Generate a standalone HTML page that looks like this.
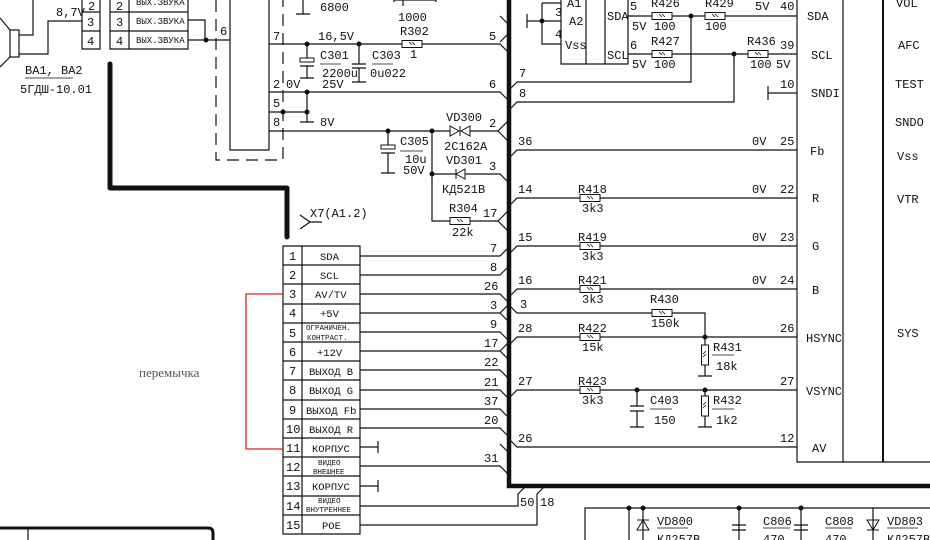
<!DOCTYPE html>
<html><head><meta charset="utf-8"><style>
html,body{margin:0;padding:0;background:#fff;}
svg{display:block;}
text{font-family:"Liberation Mono",monospace;font-size:12px;fill:#111;}
.s{font-size:9px;}
.xs{font-size:7.5px;}
.c{font-size:10.5px;}
</style></head><body>
<svg width="930" height="540" viewBox="0 0 930 540" xmlns="http://www.w3.org/2000/svg">
<defs>
<g id="rh"><rect x="-10" y="-3.5" width="20" height="7" fill="#fff" stroke="#111" stroke-width="1"/><path d="M-3 -2 L0 1 M0 -2 L3 1" stroke="#111" stroke-width="0.8"/></g>
<g id="rv"><rect x="-3.5" y="-10" width="7" height="20" fill="#fff" stroke="#111" stroke-width="1"/><path d="M-2 2 L1 -1 M-2 -1 L1 -4" stroke="#111" stroke-width="0.8"/></g>
</defs>
<g stroke="#111" stroke-width="1.2" fill="none">
<rect x="10" y="30" width="9" height="27"/>
<path d="M0 18 L10 30 M0 67 L10 57 M19 35 H33 V0 M19 54 H48 V21 H82"/>
<path d="M82 0 V49 H100 V0 M82 12 H100 M82 31 H100"/>
<path d="M110 0 V49 H188 V0 M129 0 V49 M110 12 H188 M110 31 H188"/>
<path d="M188 20 H205 V40 M188 40 H230"/>
<path d="M216 0 V160 H283 V0" stroke-dasharray="12,7"/>
<path d="M230 0 V150 H269 V0"/>
<path d="M110 64 V188 H287 V237" stroke-width="5" stroke-linecap="round" stroke-linejoin="round"/>
<path d="M303 0 V14 M296 14 H310 M403 0 V6 M394 0 H436 V2 M394 0 V2"/>
<path d="M269 44 H403 M422 44 H500 L508 52"/>
<path d="M269 92 H500 L508 100"/>
<path d="M269 112 H307 M307 92 V122 M300 122 H314"/>
<path d="M269 131 H450 M470 131 H498 L508 121 M498 131 L508 141"/>
<path d="M307 44 V60 M300 60 H314 M300 66 H314 M307 66 V78 M300 78 H314" />
<path d="M359 44 V64 M352 64 H366 M352 68 H366 M359 68 V82 M352 82 H366"/>
<path d="M388 131 V146 M381 146 H395 M381 153 H395 M388 153 V173 M381 173 H395"/>
<path d="M432 131 V221 H450 M470 221 H498 L508 231 M498 221 L508 211"/>
<path d="M432 174 H456 M465 174 H500 L508 182"/>
<path d="M450 126 L459 131 L450 136 Z M470 126 L461 131 L470 136 Z M460 126 V136" stroke-width="1"/>
<path d="M465 169 L456 174 L465 179 Z M456 169 V179" stroke-width="1"/>
<path d="M509 0 V486 H930" stroke-width="4.5"/>
<path d="M797 0 V462 H930 M843 0 V462"/>
<path d="M883 0 V462" stroke-width="2"/>
<path d="M561 0 V64 H628 V0 M586 0 V64 M605 0 V64"/>
<path d="M527 14 V28 M527 21 H561 M542 3 V44 H561 M542 3 H561"/>
<path d="M628 16 H652 M672 16 H705 M725 16 H797 M628 54 H652 M672 54 H748 M768 54 H797"/>
<path d="M691 16 V82 H517 L509 90 M734 54 V102 H517 L509 110"/>
<path d="M768 86 V100 M768 93 H797"/>
<path d="M509 158 L517 150 H797"/>
<path d="M509 206 L517 198 H797"/>
<path d="M509 254 L517 246 H797"/>
<path d="M509 297 L517 289 H797"/>
<path d="M509 305 L517 313 H652 M672 313 H705 V337"/>
<path d="M509 345 L517 337 H797"/>
<path d="M509 398 L517 390 H797"/>
<path d="M509 439 L517 447 H797"/>
<path d="M705 337 V376 M698 376 H712"/>
<path d="M705 390 V427 M698 427 H712"/>
<path d="M637 390 V406 M630 406 H644 M630 411 H644 M637 411 V427 M630 427 H644"/>
<path d="M509 25 L500 16 M509 33 L500 42" />
<path d="M283 246 V534 H360 V246 Z M302 246 V534"/>
<path d="M283 265 H360 M283 284 H360 M283 304 H360 M283 323 H360 M283 342 H360 M283 361 H360 M283 380 H360 M283 400 H360 M283 419 H360 M283 438 H360 M283 457 H360 M283 476 H360 M283 496 H360 M283 515 H360"/>
<path d="M360 256 H500 L508 248 M360 275 H500 L508 267"/>
<path d="M360 294 H500 L508 302 M360 313 H500 L508 305 M508 321 L500 313"/>
<path d="M360 332 H500 L508 340 M360 351 H500 L508 359 M508 343 L500 351"/>
<path d="M360 370 H500 L508 378 M360 390 H500 L508 398 M360 409 H500 L508 417 M360 428 H500 L508 436 M508 452 L500 444"/>
<path d="M360 466 H500 L508 474"/>
<path d="M360 447 H378 M378 441 V453 M360 486 H378 M378 480 V492"/>
<path d="M360 506 H518 V494 L526 486 M360 525 H537 V494 L545 486"/>
<path d="M300 229 L310 222 H322 M300 215 L310 222"/>
<path d="M585 540 V508 H930 M629 508 V540 M643 508 V540 M739 508 V540 M801 508 V540 M873 508 V540"/>
<path d="M732 525 H746 M732 530 H746 M794 525 H808 M794 530 H808"/>
<path d="M637 530 L643 520 L649 530 Z M637 520 H649 M867 520 L873 530 L879 520 Z M867 530 H879" stroke-width="1"/>
<path d="M657 528 H688 M763 528 H790 M825 528 H852 M887 528 H918" stroke-width="0.8"/>
<path d="M0 528 H208 Q213 528 213 533 V540" stroke-width="3"/>
<path d="M28 528 V540"/>
<path d="M25 78 H73 M320 64 H341 M372 64 H393 M400 151 H423 M650 409 H672" stroke-width="0.8"/>
<path d="M712 355 H734 M712 409 H734" stroke-width="0.8"/>
</g>
<g stroke="#e02020" stroke-width="1.3" fill="none"><path d="M283 294 H246 V449 H283"/></g>
<g fill="#111">
<circle cx="206" cy="40" r="2.5"/><circle cx="307" cy="44" r="2.5"/><circle cx="359" cy="44" r="2.5"/>
<circle cx="307" cy="92" r="2.5"/><circle cx="307" cy="112" r="2.5"/><circle cx="283" cy="112" r="2.5"/>
<circle cx="388" cy="131" r="2.5"/><circle cx="432" cy="131" r="2.5"/><circle cx="432" cy="174" r="2.5"/>
<circle cx="542" cy="21" r="2.5"/><circle cx="691" cy="16" r="2.5"/><circle cx="734" cy="54" r="2.5"/>
<circle cx="705" cy="337" r="2.5"/><circle cx="705" cy="390" r="2.5"/><circle cx="637" cy="390" r="2.5"/>
<circle cx="629" cy="508" r="2.5"/><circle cx="643" cy="508" r="2.5"/><circle cx="739" cy="508" r="2.5"/><circle cx="801" cy="508" r="2.5"/>
</g>
<g fill="#fff" stroke="#111" stroke-width="1"><rect x="300" y="58" width="14" height="4"/><rect x="381" y="145" width="14" height="4"/></g>
<use href="#rh" x="412" y="44"/><use href="#rh" x="460" y="221"/>
<use href="#rh" x="662" y="16"/><use href="#rh" x="715" y="16"/><use href="#rh" x="662" y="54"/><use href="#rh" x="758" y="54"/>
<use href="#rh" x="590" y="198"/><use href="#rh" x="590" y="246"/><use href="#rh" x="590" y="289"/>
<use href="#rh" x="662" y="313"/><use href="#rh" x="590" y="337"/><use href="#rh" x="590" y="390"/>
<use href="#rv" x="705" y="355"/><use href="#rv" x="705" y="406"/>
<text x="56" y="16">8,7V</text>
<text x="88" y="10">2</text><text x="87" y="26">3</text><text x="87" y="45">4</text>
<text x="116" y="10">2</text><text x="116" y="26">3</text><text x="116" y="45">4</text>
<text class="s" x="136" y="24">ВЫХ.ЗВУКА</text><text class="s" x="136" y="43">ВЫХ.ЗВУКА</text><text class="s" x="136" y="5">ВЫХ.ЗВУКА</text>
<text x="220" y="35">6</text>
<text x="25" y="74">BA1, BA2</text><text x="20" y="93">5ГДШ-10.01</text>
<text x="320" y="11">6800</text><text x="398" y="21">1000</text>
<text x="273" y="40">7</text><text x="318" y="40">16,5V</text><text x="400" y="35">R302</text><text x="410" y="58">1</text>
<text x="320" y="59">C301</text><text x="322" y="77">2200u</text><text x="322" y="88">25V</text>
<text x="372" y="59">C303</text><text x="370" y="77">0u022</text>
<text x="273" y="88">2</text><text x="286" y="88">0V</text><text x="273" y="107">5</text><text x="273" y="126">8</text><text x="320" y="126">8V</text>
<text x="489" y="40">5</text><text x="489" y="88">6</text><text x="489" y="127">2</text><text x="489" y="170">3</text><text x="483" y="217">17</text>
<text x="400" y="145">C305</text><text x="405" y="163">10u</text><text x="403" y="174">50V</text>
<text x="446" y="121">VD300</text><text x="444" y="150">2C162A</text>
<text x="446" y="164">VD301</text><text x="442" y="193">КД521В</text>
<text x="449" y="212">R304</text><text x="452" y="236">22k</text>
<text x="310" y="217">X7(A1.2)</text>
<text x="567" y="7">A1</text><text x="569" y="25">A2</text><text x="565" y="49">Vss</text><text x="555" y="16">3</text><text x="555" y="38">4</text>
<text x="607" y="20">SDA</text><text x="607" y="59">SCL</text>
<text x="630" y="10">5</text><text x="630" y="49">6</text>
<text x="651" y="7">R426</text><text x="705" y="7">R429</text>
<text x="632" y="30">5V</text><text x="654" y="30">100</text><text x="705" y="30">100</text>
<text x="651" y="45">R427</text><text x="632" y="68">5V</text><text x="654" y="68">100</text>
<text x="747" y="45">R436</text><text x="750" y="68">100</text><text x="776" y="68">5V</text>
<text x="755" y="10">5V</text><text x="780" y="10">40</text><text x="780" y="49">39</text><text x="780" y="88">10</text>
<text x="519" y="77">7</text><text x="519" y="97">8</text>
<text x="518" y="145">36</text><text x="752" y="145">0V</text><text x="780" y="145">25</text>
<text x="518" y="193">14</text><text x="578" y="193">R418</text><text x="582" y="212">3k3</text><text x="752" y="193">0V</text><text x="780" y="193">22</text>
<text x="518" y="241">15</text><text x="578" y="241">R419</text><text x="582" y="260">3k3</text><text x="752" y="241">0V</text><text x="780" y="241">23</text>
<text x="518" y="284">16</text><text x="578" y="284">R421</text><text x="582" y="303">3k3</text><text x="752" y="284">0V</text><text x="780" y="284">24</text>
<text x="520" y="308">3</text><text x="650" y="303">R430</text><text x="651" y="327">150k</text>
<text x="518" y="332">28</text><text x="578" y="332">R422</text><text x="582" y="351">15k</text><text x="780" y="332">26</text>
<text x="713" y="351">R431</text><text x="716" y="370">18k</text>
<text x="518" y="385">27</text><text x="578" y="385">R423</text><text x="582" y="404">3k3</text><text x="780" y="385">27</text>
<text x="650" y="404">C403</text><text x="654" y="424">150</text><text x="713" y="404">R432</text><text x="716" y="424">1k2</text>
<text x="518" y="442">26</text><text x="780" y="442">12</text>
<text x="807" y="20">SDA</text><text x="811" y="59">SCL</text><text x="811" y="97">SNDI</text><text x="810" y="155">Fb</text>
<text x="812" y="202">R</text><text x="812" y="250">G</text><text x="812" y="294">B</text><text x="806" y="342">HSYNC</text><text x="806" y="395">VSYNC</text><text x="812" y="452">AV</text>
<text x="896" y="7">VOL</text><text x="898" y="49">AFC</text><text x="895" y="88">TEST</text><text x="895" y="126">SNDO</text><text x="897" y="160">Vss</text><text x="897" y="203">VTR</text><text x="897" y="337">SYS</text>
<text x="289" y="260">1</text><text x="289" y="279">2</text><text x="289" y="298">3</text><text x="289" y="317">4</text><text x="289" y="337">5</text><text x="289" y="356">6</text><text x="289" y="375">7</text><text x="289" y="394">8</text><text x="289" y="414">9</text><text x="286" y="433">10</text><text x="286" y="452">11</text><text x="286" y="471">12</text><text x="286" y="490">13</text><text x="286" y="510">14</text><text x="286" y="529">15</text>
<text class="c" x="320" y="260">SDA</text><text class="c" x="320" y="279">SCL</text><text class="c" x="315" y="298">AV/TV</text><text class="c" x="320" y="317">+5V</text>
<text class="xs" x="306" y="330">ОГРАНИЧЕН.</text><text class="xs" x="307" y="340">КОНТРАСТ.</text>
<text class="c" x="317" y="356">+12V</text><text class="c" x="309" y="375">ВЫХОД B</text><text class="c" x="309" y="394">ВЫХОД G</text><text class="c" x="306" y="414">ВЫХОД Fb</text><text class="c" x="309" y="433">ВЫХОД R</text>
<text class="c" x="312" y="452">КОРПУС</text><text class="xs" x="318" y="465">ВИДЕО</text><text class="xs" x="313" y="474">ВНЕШНЕЕ</text>
<text class="c" x="312" y="490">КОРПУС</text><text class="xs" x="318" y="503">ВИДЕО</text><text class="xs" x="306" y="512">ВНУТРЕННЕЕ</text><text class="c" x="322" y="529">РОЕ</text>
<text x="490" y="252">7</text><text x="490" y="271">8</text><text x="484" y="290">26</text><text x="490" y="309">3</text><text x="490" y="328">9</text><text x="484" y="347">17</text><text x="484" y="366">22</text><text x="484" y="386">21</text><text x="484" y="405">37</text><text x="484" y="424">20</text><text x="484" y="462">31</text>
<text x="520" y="506">50</text><text x="540" y="506">18</text>
<text x="139" y="377" style="font-family:'Liberation Serif',serif;font-size:13px;fill:#555">перемычка</text>
<text x="657" y="525">VD800</text><text x="763" y="525">C806</text><text x="825" y="525">C808</text><text x="887" y="525">VD803</text>
<text x="657" y="543">КД257В</text><text x="763" y="543">470</text><text x="825" y="543">470</text><text x="887" y="543">КД257В</text>
</svg>
</body></html>
